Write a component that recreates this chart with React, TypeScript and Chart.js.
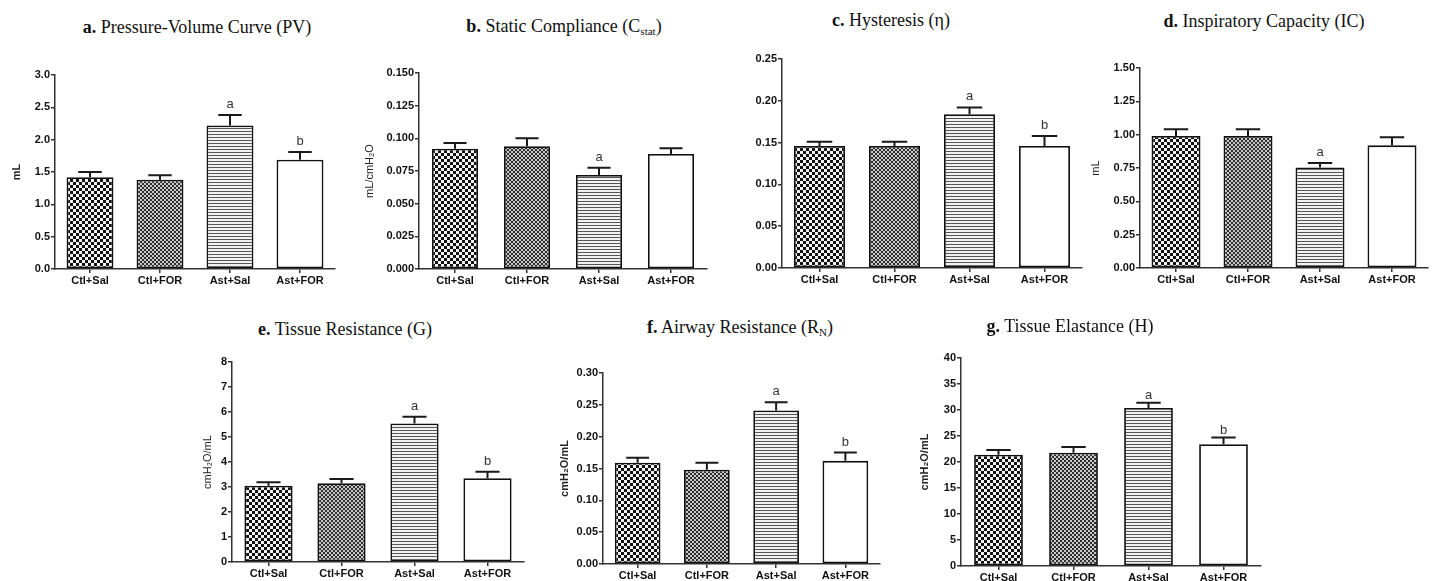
import React, { useEffect, useRef } from 'react';
import { Chart, registerables } from 'chart.js';

Chart.register(...registerables);

const categories = ['Ctl+Sal', 'Ctl+FOR', 'Ast+Sal', 'Ast+FOR'];

// a. Pressure-Volume Curve
const pvMean = [1.42, 1.38, 2.22, 1.69];
const pvSem = [0.08, 0.07, 0.16, 0.12];
const pvLetters = ['', '', 'a', 'b'];
const pvTicks = ['0.0', '0.5', '1.0', '1.5', '2.0', '2.5', '3.0'];

// b. Static Compliance
const cstatMean = [0.092, 0.094, 0.072, 0.088];
const cstatSem = [0.0045, 0.006, 0.0055, 0.0045];
const cstatLetters = ['', '', 'a', ''];
const cstatTicks = ['0.000', '0.025', '0.050', '0.075', '0.100', '0.125', '0.150'];

// c. Hysteresis
const etaMean = [0.146, 0.146, 0.184, 0.146];
const etaSem = [0.005, 0.005, 0.008, 0.012];
const etaLetters = ['', '', 'a', 'b'];
const etaTicks = ['0.00', '0.05', '0.10', '0.15', '0.20', '0.25'];

// d. Inspiratory Capacity
const icMean = [0.99, 0.99, 0.753, 0.92];
const icSem = [0.05, 0.05, 0.035, 0.06];
const icLetters = ['', '', 'a', ''];
const icTicks = ['0.00', '0.25', '0.50', '0.75', '1.00', '1.25', '1.50'];

// e. Tissue Resistance
const gMean = [3.05, 3.15, 5.54, 3.35];
const gSem = [0.14, 0.17, 0.27, 0.26];
const gLetters = ['', '', 'a', 'b'];
const gTicks = ['0', '1', '2', '3', '4', '5', '6', '7', '8'];

// f. Airway Resistance
const rnMean = [0.159, 0.148, 0.241, 0.162];
const rnSem = [0.008, 0.011, 0.013, 0.013];
const rnLetters = ['', '', 'a', 'b'];
const rnTicks = ['0.00', '0.05', '0.10', '0.15', '0.20', '0.25', '0.30'];

// g. Tissue Elastance
const hMean = [21.4, 21.8, 30.4, 23.4];
const hSem = [0.9, 1.1, 1.0, 1.3];
const hLetters = ['', '', 'a', 'b'];
const hTicks = ['0', '5', '10', '15', '20', '25', '30', '35', '40'];

type PanelCfg = {
  id: string;
  title: React.ReactNode;
  titleX: number;
  titleBaseline: number;
  yLabel: string;
  yLabelBold: boolean;
  mean: number[];
  sem: number[];
  letters: string[];
  letterGap: number;
  ticks: string[];
  yMax: number;
  yStep: number;
  axisLeft: number;
  top: number;
  bottom: number;
  right: number;
  yTitleX: number | null;
  barPct: number;
};

const subStyle: React.CSSProperties = { fontSize: '11px', lineHeight: 0, verticalAlign: '-3px' };

const panels: PanelCfg[] = [
  {
    id: 'a',
    title: (<><b>a.</b> Pressure-Volume Curve (PV)</>),
    titleX: 197, titleBaseline: 33,
    yLabel: 'mL', yLabelBold: true,
    mean: pvMean, sem: pvSem, letters: pvLetters, letterGap: 7, ticks: pvTicks, yMax: 3, yStep: 0.5,
    axisLeft: 55, top: 75, bottom: 269, right: 335, yTitleX: 17, barPct: 0.67,
  },
  {
    id: 'b',
    title: (<><b>b.</b> Static Compliance (C<sub style={subStyle}>stat</sub>)</>),
    titleX: 564, titleBaseline: 32,
    yLabel: 'mL/cmH\u2082O', yLabelBold: false,
    mean: cstatMean, sem: cstatSem, letters: cstatLetters, letterGap: 7, ticks: cstatTicks, yMax: 0.15, yStep: 0.025,
    axisLeft: 419, top: 73, bottom: 269, right: 707, yTitleX: 370, barPct: 0.64,
  },
  {
    id: 'c',
    title: (<><b>c.</b> Hysteresis (η)</>),
    titleX: 891, titleBaseline: 26,
    yLabel: '', yLabelBold: false,
    mean: etaMean, sem: etaSem, letters: etaLetters, letterGap: 7, ticks: etaTicks, yMax: 0.25, yStep: 0.05,
    axisLeft: 782, top: 59, bottom: 268, right: 1082, yTitleX: null, barPct: 0.68,
  },
  {
    id: 'd',
    title: (<><b>d.</b> Inspiratory Capacity (IC)</>),
    titleX: 1264, titleBaseline: 27,
    yLabel: 'mL', yLabelBold: false,
    mean: icMean, sem: icSem, letters: icLetters, letterGap: 7, ticks: icTicks, yMax: 1.5, yStep: 0.25,
    axisLeft: 1140, top: 68, bottom: 268, right: 1428, yTitleX: 1096, barPct: 0.68,
  },
  {
    id: 'e',
    title: (<><b>e.</b> Tissue Resistance (G)</>),
    titleX: 345, titleBaseline: 335,
    yLabel: 'cmH\u2082O/mL', yLabelBold: false,
    mean: gMean, sem: gSem, letters: gLetters, letterGap: 7, ticks: gTicks, yMax: 8, yStep: 1,
    axisLeft: 232, top: 362, bottom: 562, right: 524, yTitleX: 208, barPct: 0.66,
  },
  {
    id: 'f',
    title: (<><b>f.</b> Airway Resistance (R<sub style={subStyle}>N</sub>)</>),
    titleX: 740, titleBaseline: 333,
    yLabel: 'cmH\u2082O/mL', yLabelBold: true,
    mean: rnMean, sem: rnSem, letters: rnLetters, letterGap: 7, ticks: rnTicks, yMax: 0.3, yStep: 0.05,
    axisLeft: 603, top: 373, bottom: 564, right: 880, yTitleX: 565, barPct: 0.66,
  },
  {
    id: 'g',
    title: (<><b>g.</b> Tissue Elastance (H)</>),
    titleX: 1070, titleBaseline: 332,
    yLabel: 'cmH\u2082O/mL', yLabelBold: true,
    mean: hMean, sem: hSem, letters: hLetters, letterGap: 4, ticks: hTicks, yMax: 40, yStep: 5,
    axisLeft: 961, top: 358, bottom: 566, right: 1261, yTitleX: 925, barPct: 0.65,
  },
];

function makeFills(): (CanvasPattern | string)[] {
  const tile = (w: number, h: number, draw: (c: CanvasRenderingContext2D) => void) => {
    const cv = document.createElement('canvas');
    cv.width = w;
    cv.height = h;
    const c = cv.getContext('2d')!;
    draw(c);
    return c.createPattern(cv, 'repeat')!;
  };
  const coarse = tile(6, 6, (c) => {
    c.fillStyle = '#f4f4f4';
    c.fillRect(0, 0, 6, 6);
    c.fillStyle = '#111';
    c.fillRect(0, 0, 3, 3);
    c.fillRect(3, 3, 3, 3);
  });
  const fine = tile(4, 4, (c) => {
    c.fillStyle = '#2e2e2e';
    c.fillRect(0, 0, 4, 4);
    c.fillStyle = '#c8c8c8';
    c.fillRect(0, 0, 2, 2);
    c.fillRect(2, 2, 2, 2);
  });
  const lines = tile(4, 3, (c) => {
    c.fillStyle = '#f2f2f2';
    c.fillRect(0, 0, 4, 3);
    c.fillStyle = '#555';
    c.fillRect(0, 0, 4, 1);
  });
  return [coarse, fine, lines, '#ffffff'];
}

const SANS = '"Liberation Sans", Arial, Helvetica, sans-serif';

function Panel({ p }: { p: PanelCfg }) {
  const ref = useRef<HTMLCanvasElement>(null);
  const padTop = 22;
  const xH = 24;
  const padRight = 5;
  const left = Math.round(p.yTitleX != null ? p.yTitleX - 6.6 : p.axisLeft - 45);
  const yW = p.axisLeft - left;
  const W = Math.round(p.right - left + padRight);
  const H = Math.round(padTop + (p.bottom - p.top) + xH);
  const topPx = Math.round(p.top - padTop);

  useEffect(() => {
    const canvas = ref.current!;
    const fills = makeFills();
    const errPlugin = {
      id: 'errbars_' + p.id,
      afterDatasetsDraw(chart: any) {
        const ctx = chart.ctx as CanvasRenderingContext2D;
        const meta = chart.getDatasetMeta(0);
        const ys = chart.scales.y;
        ctx.save();
        meta.data.forEach((bar: any, i: number) => {
          const capY = ys.getPixelForValue(p.mean[i] + p.sem[i]);
          const x = bar.x;
          const half = bar.width / 4;
          ctx.strokeStyle = '#1a1a1a';
          ctx.lineWidth = 2;
          ctx.beginPath();
          ctx.moveTo(x, bar.y);
          ctx.lineTo(x, capY);
          ctx.moveTo(x - half, capY);
          ctx.lineTo(x + half, capY);
          ctx.stroke();
          if (p.letters[i]) {
            ctx.fillStyle = '#333';
            ctx.font = '13px ' + SANS;
            ctx.textAlign = 'center';
            ctx.textBaseline = 'alphabetic';
            ctx.fillText(p.letters[i], x, capY - p.letterGap);
          }
        });
        ctx.restore();
      },
    };
    const chart = new Chart(canvas, {
      type: 'bar',
      data: {
        labels: categories,
        datasets: [
          {
            data: p.mean,
            backgroundColor: fills as any,
            borderColor: '#111',
            borderWidth: 1.8,
            borderSkipped: false,
            categoryPercentage: 1,
            barPercentage: p.barPct,
          },
        ],
      },
      options: {
        responsive: false,
        animation: false,
        devicePixelRatio: 1,
        layout: { padding: { top: padTop, right: padRight, left: 0, bottom: 0 } },
        plugins: {
          legend: { display: false },
          tooltip: { enabled: false },
          title: { display: false },
        },
        scales: {
          x: {
            grid: { display: true, drawOnChartArea: false, offset: false, tickLength: 4, color: '#333', lineWidth: 1.5 },
            border: { display: true, color: '#333', width: 1.5 },
            ticks: {
              color: '#111',
              font: { family: SANS, size: 11, weight: 'bold' },
              maxRotation: 0,
              autoSkip: false,
              padding: 1,
            },
            afterFit: (s: any) => {
              s.height = xH;
            },
          },
          y: {
            min: 0,
            max: p.yMax,
            grid: { display: true, drawOnChartArea: false, tickLength: 4, color: '#333', lineWidth: 1.5 },
            border: { display: true, color: '#333', width: 1.5 },
            ticks: {
              stepSize: p.yStep,
              color: '#111',
              font: { family: SANS, size: 11, weight: 'bold' },
              padding: 1,
              callback: (v: any) => {
                const t = p.ticks.find((s) => Math.abs(parseFloat(s) - Number(v)) < 1e-9);
                return t ?? '';
              },
            },
            title: {
              display: !!p.yLabel,
              text: p.yLabel,
              color: '#222',
              font: { family: SANS, size: 11, weight: p.yLabelBold ? 'bold' : 'normal' },
              padding: { top: 0, bottom: 0 },
            },
            afterFit: (s: any) => {
              s.width = yW;
            },
          },
        },
      },
      plugins: [errPlugin as any],
    });
    return () => chart.destroy();
  }, []);

  return (
    <>
      <canvas
        ref={ref}
        width={W}
        height={H}
        style={{ position: 'absolute', left, top: topPx, width: W, height: H }}
      />
      <div
        style={{
          position: 'absolute',
          left: p.titleX,
          top: p.titleBaseline - 15,
          transform: 'translateX(-50%)',
          fontFamily: '"Liberation Serif", "Times New Roman", serif',
          fontSize: '18px',
          lineHeight: '18px',
          whiteSpace: 'nowrap',
          color: '#111',
        }}
      >
        {p.title}
      </div>
    </>
  );
}

export default function App() {
  return (
    <div
      style={{
        position: 'absolute',
        left: 0,
        top: 0,
        width: 1433,
        height: 581,
        background: '#ffffff',
        overflow: 'hidden',
      }}
    >
      {panels.map((p) => (
        <Panel key={p.id} p={p} />
      ))}
    </div>
  );
}
